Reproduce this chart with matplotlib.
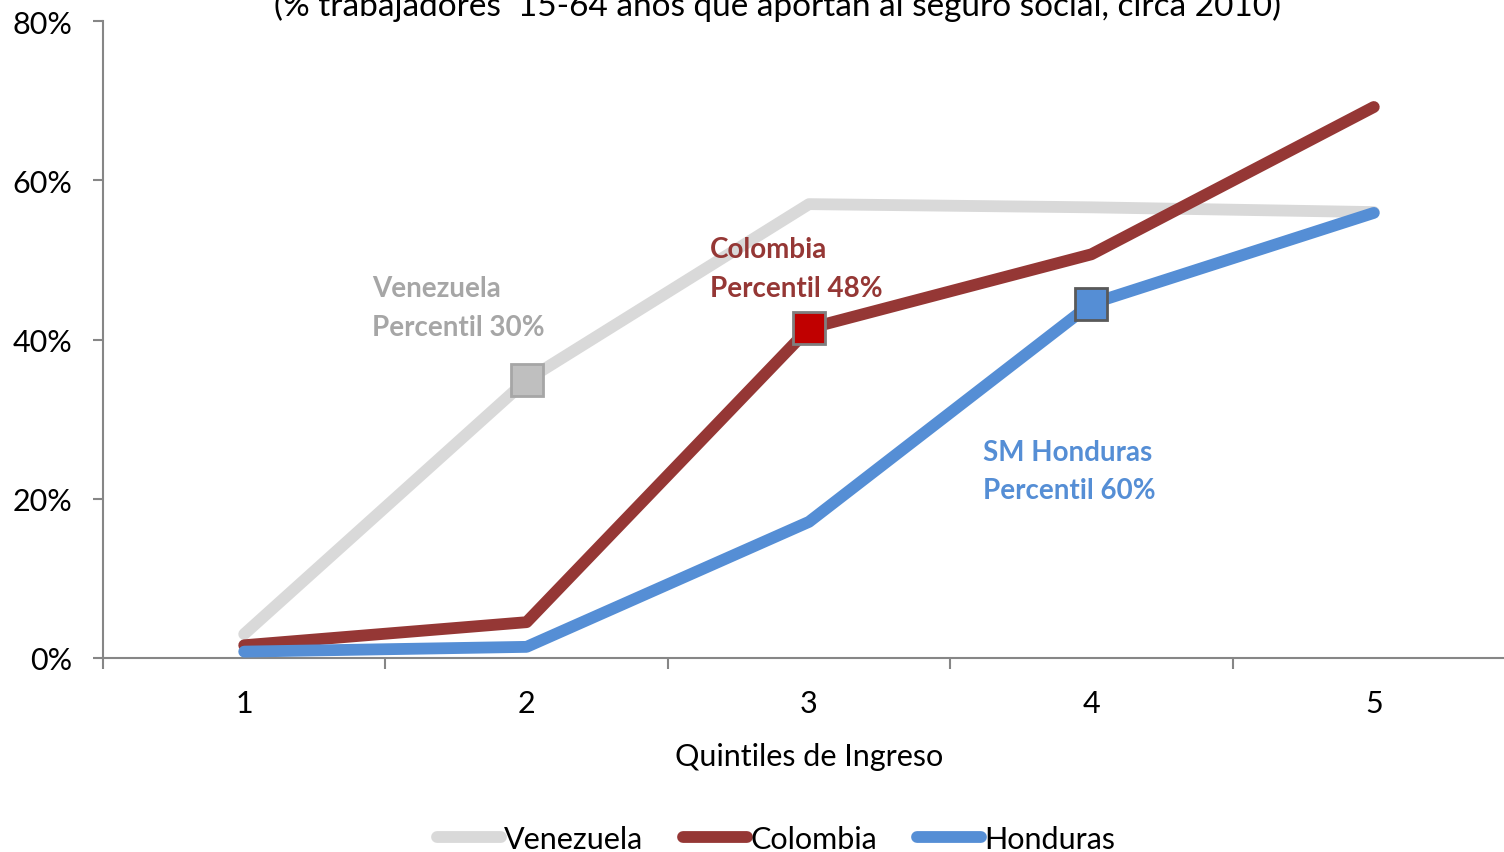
import numpy as np
import matplotlib
matplotlib.use("Agg")
import matplotlib.pyplot as plt
from matplotlib.lines import Line2D
from matplotlib.ticker import FuncFormatter

# cobertura de seguridad social por quintil de ingreso (%)
quintiles = [1, 2, 3, 4, 5]
venezuela = [3.0, 34.9, 57.0, 56.6, 56.0]
colombia = [1.6, 4.5, 41.4, 50.7, 69.2]
honduras = [0.8, 1.4, 17.1, 44.5, 55.9]

# percentil del salario minimo sobre cada curva
sm_quintil = {"Venezuela": 2, "Colombia": 3, "Honduras": 4}

C_VEN, C_COL, C_HON = "#D9D9D9", "#953735", "#558ED5"

plt.rcParams.update({"font.family": ["Lato", "DejaVu Sans"], "font.size": 22})

fig = plt.figure(figsize=(15.04, 8.53), dpi=100)
ax = fig.add_axes([103 / 1504, 194 / 853, 1412 / 1504, 637 / 853])

lw = 8.5
ax.plot(quintiles, venezuela, color=C_VEN, lw=lw, solid_capstyle="round",
        solid_joinstyle="round", zorder=2)
ax.plot(quintiles, colombia, color=C_COL, lw=lw, solid_capstyle="round",
        solid_joinstyle="round", zorder=3)
ax.plot(quintiles, honduras, color=C_HON, lw=lw, solid_capstyle="round",
        solid_joinstyle="round", zorder=4)

ms = 23
i = sm_quintil["Venezuela"] - 1
ax.plot(quintiles[i], venezuela[i], marker="s", ms=ms, mfc="#BFBFBF",
        mec="#A6A6A6", mew=2, zorder=5)
i = sm_quintil["Colombia"] - 1
ax.plot(quintiles[i], colombia[i], marker="s", ms=ms, mfc="#C00000",
        mec="#7F7F7F", mew=2, zorder=5)
i = sm_quintil["Honduras"] - 1
ax.plot(quintiles[i], honduras[i], marker="s", ms=ms, mfc=C_HON,
        mec="#595959", mew=2, zorder=5)

note = dict(fontweight="bold", fontsize=20, linespacing=1.6, va="center")
ax.text(1.452, 44.0, "Venezuela\nPercentil 30%", color="#A6A6A6", **note)
ax.text(2.65, 48.9, "Colombia\nPercentil 48%", color=C_COL, **note)
ax.text(3.615, 23.5, "SM Honduras\nPercentil 60%", color=C_HON, **note)

ax.set_xlim(0.5, 5.5)
ax.set_ylim(0, 80)
ax.set_yticks([0, 20, 40, 60, 80])
ax.yaxis.set_major_formatter(FuncFormatter(lambda v, _: f"{v:.0f}%"))
ax.set_xticks(quintiles)
ax.set_xticks(np.arange(0.5, 6.0, 1.0), minor=True)
ax.tick_params(axis="x", which="major", length=0, pad=22)
ax.tick_params(axis="x", which="minor", length=8, width=1.5, color="#868686",
               direction="out")
ax.tick_params(axis="y", length=7, width=1.5, color="#868686", pad=15)
for s in ("top", "right"):
    ax.spines[s].set_visible(False)
for s in ("left", "bottom"):
    ax.spines[s].set_color("#868686")
    ax.spines[s].set_linewidth(1.5)
ax.set_xlabel("Quintiles de Ingreso", labelpad=18)

# subtitulo (la primera linea del titulo queda fuera del lienzo)
fig.text(778 / 1504, 1 - 6 / 853,
         "(% trabajadores  15-64 años que aportan al seguro social, circa 2010)",
         ha="center", va="center", fontsize=24)

handles = [Line2D([], [], color=c, lw=lw, solid_capstyle="round")
           for c in (C_VEN, C_COL, C_HON)]
fig.legend(handles, ["Venezuela", "Colombia", "Honduras"], loc="center",
           bbox_to_anchor=(776 / 1504, 1 - 840 / 853), ncol=3, frameon=False,
           handlelength=2.1, handletextpad=0.1, columnspacing=1.3, fontsize=22)

fig.savefig("out.png", dpi=100)
